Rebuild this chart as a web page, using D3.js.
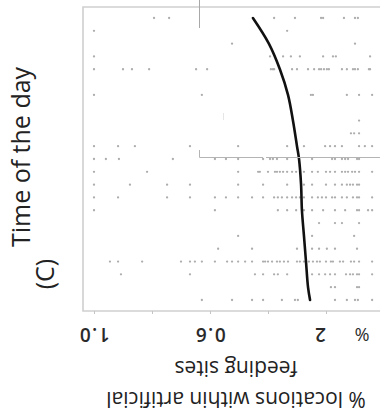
<!DOCTYPE html>
<html>
<head>
<meta charset="utf-8">
<script src="https://cdn.jsdelivr.net/npm/d3@7"></script>
<style>
  body { margin: 0; background: #fff; }
  svg { display: block; }
</style>
</head>
<body>
<div id="chart"></div>
<script>
// hours of the day (rows of the rotated panel)
var hours = d3.range(0, 23);

// observed proportions of locations within feeding sites, one list per hour
var obsByHour = [
  [0.793, 0.741, 0.379, 0.307, 0.217, 0.210, 0.138, 0.100, 0.090],
  [1.000, 0.334],
  [0.524, 0.100],
  [1.000, 0.393, 0.348, 0.321, 0.290, 0.210, 0.176, 0.166, 0.048],
  [1.000, 0.900, 0.869, 0.810, 0.648, 0.610, 0.390, 0.383, 0.379, 0.317, 0.300, 0.262, 0.241, 0.224, 0.217, 0.207, 0.197, 0.190, 0.145, 0.128, 0.107, 0.100, 0.090, 0.052, 0.048],
  [],
  [1.000, 0.628, 0.252, 0.245, 0.128, 0.086, 0.041],
  [],
  [0.086],
  [0.114, 0.103, 0.086],
  [1.000, 0.917, 0.859, 0.669, 0.503, 0.334, 0.276, 0.203, 0.186, 0.169, 0.145, 0.086, 0.066, 0.041],
  [1.000, 0.959, 0.914, 0.728, 0.583, 0.545, 0.503, 0.417, 0.393, 0.383, 0.369, 0.334, 0.248, 0.179, 0.169, 0.145, 0.134, 0.124, 0.093, 0.086],
  [1.000, 0.817, 0.503, 0.434, 0.428, 0.400, 0.376, 0.369, 0.359, 0.348, 0.334, 0.317, 0.303, 0.276, 0.248, 0.228, 0.200, 0.186, 0.169, 0.145, 0.134, 0.124, 0.110, 0.100, 0.086, 0.041],
  [1.000, 0.876, 0.748, 0.669, 0.503, 0.417, 0.334, 0.276, 0.248, 0.200, 0.169, 0.145, 0.128, 0.117, 0.107, 0.093, 0.086],
  [1.000, 0.917, 0.748, 0.669, 0.583, 0.545, 0.503, 0.455, 0.417, 0.379, 0.366, 0.352, 0.334, 0.317, 0.303, 0.290, 0.276, 0.248, 0.228, 0.214, 0.200, 0.179, 0.169, 0.145, 0.128, 0.107, 0.093, 0.086, 0.041],
  [1.000, 0.583, 0.366, 0.334, 0.303, 0.276, 0.248, 0.210, 0.169, 0.134, 0.093, 0.086, 0.055, 0.041],
  [0.224, 0.169, 0.145, 0.086],
  [0.503, 0.248, 0.103],
  [0.572, 0.455, 0.300, 0.248, 0.224, 0.197, 0.169, 0.093],
  [0.945, 0.917, 0.834, 0.700, 0.669, 0.652, 0.628, 0.583, 0.541, 0.524, 0.503, 0.479, 0.455, 0.417, 0.410, 0.400, 0.386, 0.369, 0.359, 0.345, 0.331, 0.300, 0.290, 0.276, 0.259, 0.245, 0.231, 0.221, 0.200, 0.183, 0.176, 0.152, 0.141, 0.114, 0.103, 0.086, 0.041],
  [0.907, 0.669, 0.445, 0.417, 0.379, 0.366, 0.334, 0.248, 0.224, 0.203, 0.186, 0.169, 0.131, 0.117, 0.107, 0.093, 0.086, 0.041],
  [0.183, 0.169, 0.093, 0.086],
  [0.628, 0.524, 0.455, 0.417, 0.352, 0.307, 0.297, 0.255, 0.169, 0.128, 0.100, 0.090, 0.041]
];

// fitted curve
var fitHours  = [0, 2, 4, 6, 8, 10, 11, 13, 15, 17, 19, 21, 22];
var fitValues = [0.452, 0.397, 0.359, 0.331, 0.314, 0.300, 0.293, 0.286, 0.283, 0.276, 0.269, 0.262, 0.255];

// x axis ticks (shown upside-down in the picture)
var tickValues = [1.0, 0.8, 0.6, 0.4, 0.2];
var tickLabels = ["1.0", "", "0.6", "", "2"];

var svgWidth = 380;
var svgHeight = 417;

var svg = d3.select("#chart")
  .append("svg")
  .attr("width", svgWidth)
  .attr("height", svgHeight);

// frame of the panel
var frame = { left: 83, top: 7, bottom: 311, right: 400 };

var x = d3.scaleLinear().domain([1.0, 0]).range([94, 384]);
var y = d3.scaleLinear().domain([0, 22]).range([18, 300]);

// frame lines (right side is cut off)
svg.append("path")
  .attr("d", `M${frame.right},${frame.top}H${frame.left}V${frame.bottom}H${frame.right}`)
  .attr("fill", "none")
  .attr("stroke", "#cfcfcf")
  .attr("stroke-width", 1.6);

// bottom axis ticks
var xAxis = d3.axisBottom(x)
  .tickValues(tickValues)
  .tickSize(3)
  .tickFormat("");

svg.append("g")
  .attr("transform", `translate(0, ${frame.bottom})`)
  .call(xAxis)
  .call(g => g.select(".domain").remove())
  .call(g => g.selectAll(".tick line").attr("stroke", "#c4c4c4"));

// points
var points = [];
obsByHour.forEach(function(vals, i) {
  vals.forEach(function(v) { points.push({ hour: hours[i], value: v }); });
});

svg.append("g")
  .selectAll("circle")
  .data(points)
  .enter()
  .append("circle")
  .attr("cx", d => x(d.value))
  .attr("cy", d => y(d.hour))
  .attr("r", 1.15)
  .attr("fill", "#adadad");

// fitted line
var line = d3.line()
  .x(d => x(d[1]))
  .y(d => y(d[0]))
  .curve(d3.curveCatmullRom);

svg.append("path")
  .datum(d3.zip(fitHours, fitValues))
  .attr("d", line)
  .attr("fill", "none")
  .attr("stroke", "#111")
  .attr("stroke-width", 2.6)
  .attr("stroke-linecap", "round");

// stray lines left over from an overlapping panel
var stray = svg.append("g").attr("stroke", "#a8a8a8").attr("stroke-width", 1).attr("fill", "none");
stray.append("path").attr("d", "M199.5,0V28");
stray.append("path").attr("d", "M199.5,150V157.5H263").attr("stroke", "#b4b4b4");
stray.append("path").attr("d", "M266,157.5H380").attr("stroke", "#b4b4b4");
stray.append("path").attr("d", "M223.5,113V120").attr("stroke", "#e6e6e6");

// tick labels, upside-down
var labelFont = "'Open Sans', 'DejaVu Sans', sans-serif";
svg.append("g")
  .selectAll("text")
  .data(d3.zip(tickValues, tickLabels).filter(d => d[1] !== ""))
  .enter()
  .append("text")
  .attr("x", d => x(d[0]))
  .attr("y", 328)
  .attr("transform", d => `rotate(180, ${x(d[0])}, 328)`)
  .attr("text-anchor", d => d[1].length === 1 ? "start" : "middle")
  .attr("font-family", labelFont)
  .attr("font-size", "19px")
  .attr("font-weight", 600)
  .attr("letter-spacing", "1.5px")
  .attr("fill", "#2a2a2a")
  .text(d => d[1]);

svg.append("text")
  .attr("x", 362)
  .attr("y", 328)
  .attr("transform", "rotate(180, 362, 328)")
  .attr("text-anchor", "middle")
  .attr("font-family", labelFont)
  .attr("font-size", "18px")
  .attr("fill", "#2a2a2a")
  .text("%");

// x axis title, upside-down
svg.append("text")
  .attr("x", 236)
  .attr("y", 361)
  .attr("transform", "rotate(180, 236, 361)")
  .attr("text-anchor", "middle")
  .attr("font-family", labelFont)
  .attr("font-size", "21px")
  .attr("fill", "#222")
  .text("feeding sites");

svg.append("text")
  .attr("x", 236)
  .attr("y", 392)
  .attr("transform", "rotate(180, 236, 392)")
  .attr("text-anchor", "middle")
  .attr("font-family", labelFont)
  .attr("font-size", "21px")
  .attr("fill", "#222")
  .text("% locations within artificial");

// left titles
svg.append("text")
  .attr("transform", "translate(30, 157) rotate(-90)")
  .attr("text-anchor", "middle")
  .attr("font-family", labelFont)
  .attr("font-size", "25px")
  .attr("fill", "#222")
  .text("Time of the day");

svg.append("text")
  .attr("transform", "translate(54, 274) rotate(-90)")
  .attr("text-anchor", "middle")
  .attr("font-family", labelFont)
  .attr("font-size", "25px")
  .attr("fill", "#222")
  .text("(C)");
</script>
</body>
</html>
